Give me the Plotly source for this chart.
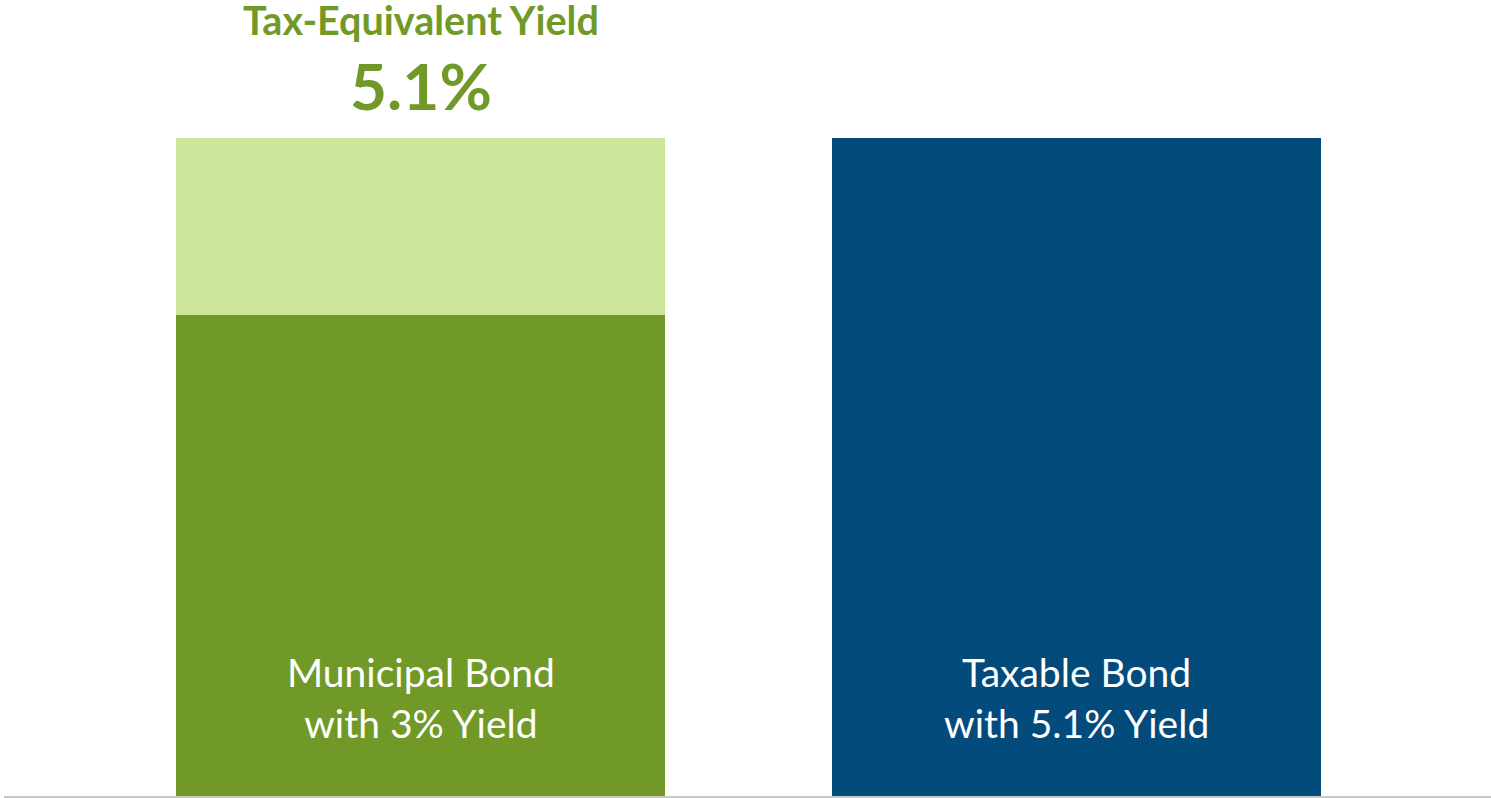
import plotly.graph_objects as go

# Data (bar heights, in chart units)
categories = ["Municipal Bond", "Taxable Bond"]
muni_yield_segment = [3.73, None]        # drawn height of the 3% muni yield block
tax_benefit_segment = [1.37, None]       # extra block up to the tax-equivalent level
taxable_segment = [None, 5.1]            # taxable bond yield
bar_labels = ["Municipal Bond<br>with 3% Yield", "Taxable Bond<br>with 5.1% Yield"]
headline_title = "Tax-Equivalent Yield"
headline_value = "5.1%"

DARK_GREEN = "#709927"
LIGHT_GREEN = "#CCE79B"
NAVY = "#034B7B"
FONT = "Lato, Carlito, Calibri, sans-serif"

fig = go.Figure()
fig.add_bar(x=categories, y=muni_yield_segment, marker_color=DARK_GREEN,
            marker_line_width=0, hoverinfo="skip")
fig.add_bar(x=categories, y=tax_benefit_segment, marker_color=LIGHT_GREEN,
            marker_line_width=0, hoverinfo="skip")
fig.add_bar(x=categories, y=taxable_segment, marker_color=NAVY,
            marker_line_width=0, hoverinfo="skip")

for cat, lab in zip(categories, bar_labels):
    fig.add_annotation(x=cat, y=0.76, xref="x", yref="y", text=lab, showarrow=False,
                       font=dict(family=FONT, size=39, color="white"),
                       yanchor="middle", xanchor="center", align="center")

fig.add_annotation(x=categories[0], y=6.02, xref="x", yref="y", text="<b>" + headline_title + "</b>",
                   showarrow=False, font=dict(family=FONT, size=39.5, color=DARK_GREEN),
                   yanchor="middle", xanchor="center")
fig.add_annotation(x=categories[0], y=5.51, xref="x", yref="y", text="<b>" + headline_value + "</b>",
                   showarrow=False, font=dict(family=FONT, size=64, color=DARK_GREEN),
                   yanchor="middle", xanchor="center")

fig.update_layout(
    barmode="stack",
    bargap=0.255,
    width=1491, height=798,
    margin=dict(l=4, r=0, t=0, b=2),
    paper_bgcolor="white", plot_bgcolor="white",
    showlegend=False,
    font=dict(family=FONT),
    xaxis=dict(range=[-0.635, 1.632], showticklabels=False, ticks="", showgrid=False,
               zeroline=False, showline=True, linecolor="#C8C8C8", linewidth=2, fixedrange=True),
    yaxis=dict(range=[0, 6.169], visible=False, showgrid=False, zeroline=False, fixedrange=True),
)

fig.write_html("out.html", config={"displayModeBar": False},
               post_script="document.body.style.margin='0';document.body.style.overflow='hidden';")
